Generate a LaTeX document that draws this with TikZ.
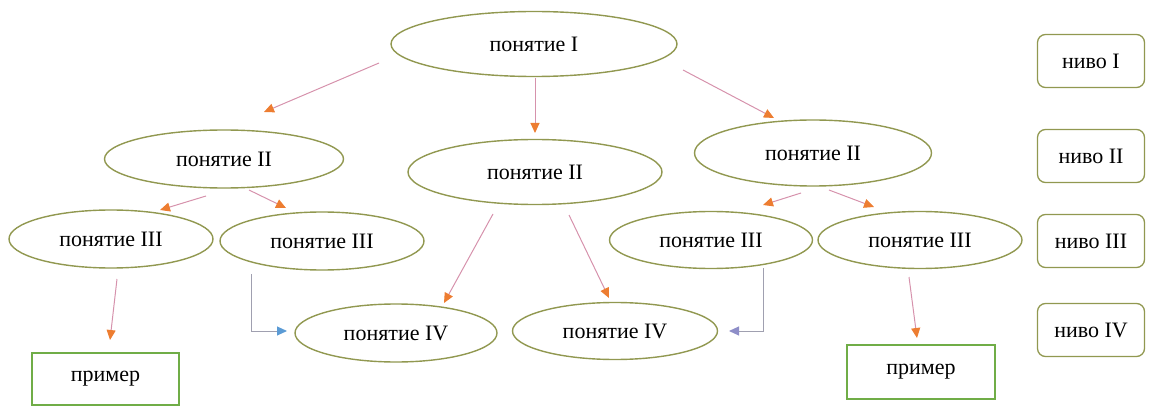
\documentclass[tikz,border=0pt]{standalone}
\usepackage{fontspec}
\setmainfont{Liberation Serif}
\usetikzlibrary{shapes.geometric,arrows.meta,calc}
\definecolor{rimolive}{RGB}{145,152,80}
\definecolor{linkpink}{RGB}{214,146,172}
\definecolor{tiporange}{RGB}{237,125,49}
\definecolor{exgreen}{RGB}{112,173,71}
\definecolor{elbowgray}{RGB}{160,160,176}
\definecolor{tipblue}{RGB}{91,155,213}
\definecolor{tippurple}{RGB}{142,142,200}
\tikzset{
  label font/.style={font=\fontsize{22}{26}\selectfont},
  concept/.style={ellipse, draw=rimolive, line width=1.4pt, fill=white, inner sep=0pt, label font},
  example/.style={rectangle, draw=exgreen, line width=2.8pt, inner sep=0pt, label font},
  levelbox/.style={rectangle, rounded corners=8pt, draw=rimolive, line width=1.3pt, inner sep=0pt,
    minimum width=107pt, minimum height=53pt, label font},
  link/.style={draw=linkpink, line width=1pt, -{Triangle[length=10pt,width=9pt,fill=tiporange,color=tiporange]}},
  elbow/.style={draw=elbowgray, line width=1pt},
}
\begin{document}
\begin{tikzpicture}[x=1pt,y=-1pt]
\useasboundingbox (0,0) rectangle (1149,409);
% concepts
\node[concept, minimum width=286pt, minimum height=65pt] (n1) at (534,44) {понятие I};
\node[concept, minimum width=239pt, minimum height=58pt] (l2a) at (224,159) {понятие II};
\node[concept, minimum width=254pt, minimum height=65pt] (l2b) at (535,172) {понятие II};
\node[concept, minimum width=237pt, minimum height=66pt] (l2c) at (813,153) {понятие II};
\node[concept, minimum width=204pt, minimum height=58pt] (l3a) at (111,239) {понятие III};
\node[concept, minimum width=204pt, minimum height=58pt] (l3b) at (322,241) {понятие III};
\node[concept, minimum width=203pt, minimum height=57pt] (l3c) at (711,240) {понятие III};
\node[concept, minimum width=204pt, minimum height=57pt] (l3d) at (920,240) {понятие III};
\node[concept, minimum width=202pt, minimum height=58pt] (l4a) at (396,333) {понятие IV};
\node[concept, minimum width=205pt, minimum height=57pt] (l4b) at (615,331) {понятие IV};
% examples
\node[example, minimum width=147pt, minimum height=52pt] (ex1) at (105.5,379) {пример};
\node[example, minimum width=148pt, minimum height=54pt] (ex2) at (921,372) {пример};
% level legend
\node[levelbox] (lv1) at (1091,61) {ниво I};
\node[levelbox] (lv2) at (1091,156) {ниво II};
\node[levelbox] (lv3) at (1091,241) {ниво III};
\node[levelbox] (lv4) at (1091,330) {ниво IV};
% links
\draw[link] ($(n1)+(-155,19)$) -- ($(l2a)+(40,-47)$);
\draw[link] ($(n1)+(1,34)$) -- ($(l2b)+(0,-39)$);
\draw[link] ($(n1)+(149,26)$) -- ($(l2c)+(-39,-35)$);
\draw[link] ($(l2a)+(-18,37)$) -- ($(l3a)+(49,-29)$);
\draw[link] ($(l2a)+(25,31)$) -- ($(l3b)+(-36,-33)$);
\draw[link] ($(l2b)+(-42,42)$) -- ($(l4a)+(48,-30)$);
\draw[link] ($(l2b)+(34,43)$) -- ($(l4b)+(-6,-33)$);
\draw[link] ($(l2c)+(-12,40)$) -- ($(l3c)+(52,-35)$);
\draw[link] ($(l2c)+(16,37)$) -- ($(l3d)+(-46,-33)$);
\draw[link] ($(l3a)+(6,40)$) -- ($(ex1)+(4.5,-39)$);
\draw[link] ($(l3d)+(-11,37)$) -- ($(ex2)+(-4,-34)$);
\draw[elbow, -{Triangle[length=10pt,width=9pt,fill=tipblue,color=tipblue]}]
  ($(l3b)+(-71,33)$) |- ($(l4a)+(-109,-2)$);
\draw[elbow, -{Triangle[length=10pt,width=9pt,fill=tippurple,color=tippurple]}]
  ($(l3c)+(52,28)$) |- ($(l4b)+(114,0)$);
\end{tikzpicture}
\end{document}
